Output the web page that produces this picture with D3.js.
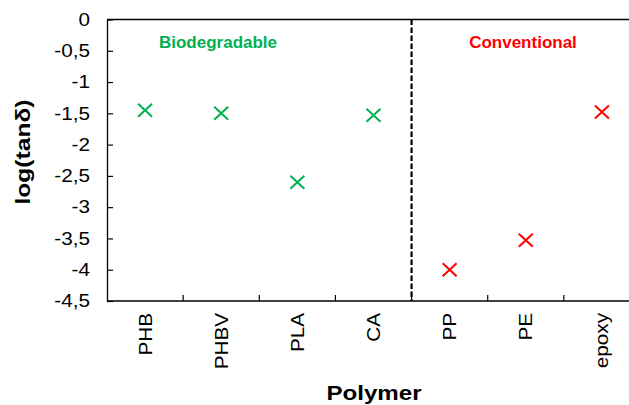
<!DOCTYPE html>
<html>
<head>
<meta charset="utf-8">
<script src="https://cdn.jsdelivr.net/npm/d3@7"></script>
<style>
  html, body { margin: 0; padding: 0; background: #fff; }
  svg { display: block; font-family: "Liberation Sans", Arial, sans-serif; }
</style>
</head>
<body>
<svg id="chart" width="629" height="405"></svg>
<script>
// Loss tangent per polymer
const polymers = ["PHB", "PHBV", "PLA", "CA", "PP", "PE", "epoxy"];
const logTanDelta = [-1.45, -1.50, -2.60, -1.53, -4.00, -3.53, -1.48];
const polymerClass = ["bio", "bio", "bio", "bio", "conv", "conv", "conv"];
const classNames = ["bio", "conv"];
const classLabels = ["Biodegradable", "Conventional"];
const classColors = ["#00B050", "#FF0000"];
const yTicks = [0, -0.5, -1, -1.5, -2, -2.5, -3, -3.5, -4, -4.5];

const svg = d3.select("#chart");
const plot = { left: 107, right: 640, top: 19.5, bottom: 301 };
// horizontal centres of the group captions
const captionX = { bio: 218, conv: 523 };

const x = d3.scaleBand().domain(polymers).range([plot.left, plot.right]).padding(0);
const y = d3.scaleLinear().domain([-4.5, 0]).range([plot.bottom, plot.top]);
const color = d3.scaleOrdinal().domain(classNames).range(classColors);
const fmt = v => (v === 0 ? "0" : String(v).replace(".", ","));

// Y axis with inward ticks
const yAxis = svg.append("g")
  .attr("transform", `translate(${plot.left},0)`)
  .call(d3.axisLeft(y).tickValues(yTicks).tickFormat(fmt)
    .tickSizeInner(-6).tickSizeOuter(0).tickPadding(17));
yAxis.select(".domain").attr("stroke", "#000").attr("stroke-width", 1.3);
yAxis.selectAll(".tick line").attr("stroke", "#000").attr("stroke-width", 1.2);
yAxis.selectAll(".tick text")
  .attr("x", null)
  .attr("transform", "translate(-17,0) scale(1.15,1)")
  .attr("font-size", 18).attr("fill", "#000")
  .attr("font-family", "'Liberation Sans', Arial, sans-serif");

// Top frame line
svg.append("line")
  .attr("x1", plot.left).attr("x2", plot.right)
  .attr("y1", plot.top).attr("y2", plot.top)
  .attr("stroke", "#000").attr("stroke-width", 1.3);

// X axis line and category boundary ticks
svg.append("line")
  .attr("x1", plot.left).attr("x2", plot.right)
  .attr("y1", plot.bottom).attr("y2", plot.bottom)
  .attr("stroke", "#000").attr("stroke-width", 1.3);
svg.append("g").selectAll("line")
  .data(polymers.slice(1))
  .join("line")
  .attr("x1", d => x(d)).attr("x2", d => x(d))
  .attr("y1", plot.bottom).attr("y2", plot.bottom - 6)
  .attr("stroke", "#000").attr("stroke-width", 1.2);

// Category labels, rotated
svg.append("g").selectAll("text")
  .data(polymers)
  .join("text")
  .attr("transform", d => `translate(${x(d) + x.bandwidth() / 2 + 6.5},313) rotate(-90) scale(1.15,1)`)
  .attr("text-anchor", "end")
  .attr("font-size", 18)
  .attr("fill", "#000")
  .text(d => d);

// Divider between biodegradable and conventional polymers
const divX = x(polymers[polymerClass.indexOf("conv")]);
svg.append("line")
  .attr("x1", divX).attr("x2", divX)
  .attr("y1", plot.top).attr("y2", plot.bottom)
  .attr("stroke", "#000").attr("stroke-width", 2.2)
  .attr("stroke-dasharray", "5.5,2.5");

// Group captions
classNames.forEach((c, i) => {
  svg.append("text")
    .attr("x", captionX[c]).attr("y", 47.5)
    .attr("text-anchor", "middle")
    .attr("font-size", 17).attr("font-weight", "bold")
    .attr("fill", color(c))
    .text(classLabels[i]);
});

// Data markers (crosses)
const data = polymers.map((p, i) => ({ p, v: logTanDelta[i], c: polymerClass[i] }));
svg.append("g").selectAll("path")
  .data(data)
  .join("path")
  .attr("transform", d => `translate(${x(d.p) + x.bandwidth() / 2},${y(d.v)})`)
  .attr("d", "M-7,-6.5L7,6.5M-7,6.5L7,-6.5")
  .attr("fill", "none")
  .attr("stroke", d => color(d.c))
  .attr("stroke-width", 2);

// Axis titles
svg.append("text")
  .attr("transform", "translate(30,152) rotate(-90) scale(1.17,1)")
  .attr("text-anchor", "middle")
  .attr("font-size", 21).attr("font-weight", "bold").attr("fill", "#000")
  .text("log(tanδ)");
svg.append("text")
  .attr("transform", "translate(374,400) scale(1.15,1)")
  .attr("text-anchor", "middle")
  .attr("font-size", 21).attr("font-weight", "bold").attr("fill", "#000")
  .text("Polymer");
</script>
</body>
</html>
